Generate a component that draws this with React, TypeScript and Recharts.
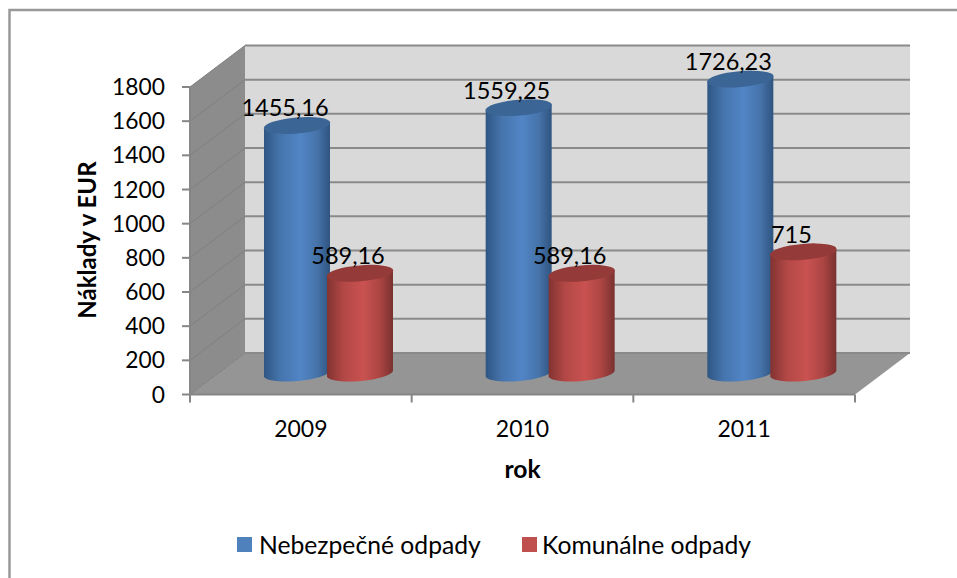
import { Bar, CartesianGrid, ComposedChart, Legend, LabelList, XAxis, YAxis } from "recharts";

const years = ["2009", "2010", "2011"];
const hazardous = [1455.16, 1559.25, 1726.23];
const municipal = [589.16, 589.16, 715];
const valueTicks = [0, 200, 400, 600, 800, 1000, 1200, 1400, 1600, 1800];

const rows = years.map((year, i) => ({ year, hazardous: hazardous[i], municipal: municipal[i] }));

const FONT = "Lato, Carlito, sans-serif";
const left = 190;
const right = 855;
const top = 87;
const bottom = 394.5;
// depth of the fake 3d box, back wall is shifted by this much
const DX = 55;
const DY = -41.5;
// the cylinders stand in the middle of the floor
const BAR_DX = 28;
const BAR_DY = -20.5;

function Cylinder(props: any) {
  const { x, y, width, height, fill, top: topFill } = props;
  const rx = width / 2 + 0.4;
  const ry = 8;
  const x0 = x + BAR_DX;
  const x1 = x0 + width;
  const yt = y + BAR_DY;
  const yb = y + height + BAR_DY;
  const tilt = 3;
  const body = `M${x0},${yt + tilt} L${x0},${yb + tilt} A${rx},${ry} -5 0 0 ${x1},${yb - tilt} L${x1},${yt - tilt} A${rx},${ry} -5 0 1 ${x0},${yt + tilt} Z`;
  return (
    <g>
      <path d={body} fill={fill} />
      <ellipse cx={x0 + width / 2} cy={yt} rx={rx} ry={ry} fill={topFill} transform={`rotate(-5 ${x0 + width / 2} ${yt})`} />
    </g>
  );
}

// walls and floor, drawn once from the top grid line
function Box(props: any) {
  return (
    <g key={props.key ?? "box"}>
      <polygon points={`${left},${top} ${left + DX},${top + DY} ${left + DX},${bottom + DY} ${left},${bottom}`} fill="#8c8c8c" />
      <polygon points={`${left + DX},${top + DY} ${right + DX},${top + DY} ${right + DX},${bottom + DY} ${left + DX},${bottom + DY}`} fill="#d9d9d9" />
      <polygon points={`${left},${bottom} ${right},${bottom} ${right + DX},${bottom + DY} ${left + DX},${bottom + DY}`} fill="#959595" />
    </g>
  );
}

function GridLine(props: any) {
  const { x1, x2, y1, y2 } = props;
  return (
    <g key={props.key ?? y1}>
      <line x1={x1} y1={y1} x2={x1 + DX} y2={y1 + DY} stroke="#7f7f7f" strokeWidth={1} />
      <line x1={x1 + DX} y1={y1 + DY} x2={x2 + DX} y2={y2 + DY} stroke="#8a8a8a" strokeWidth={2} />
    </g>
  );
}

// ticks sit on the category edges, the label stays in the middle
function YearTick(props: any) {
  const { x, index, payload } = props;
  const band = (right - left) / years.length;
  const edges = index === years.length - 1 ? [x - band / 2, x + band / 2] : [x - band / 2];
  return (
    <g>
      {edges.map((ex) => (
        <line key={ex} x1={ex} x2={ex} y1={bottom} y2={bottom + 8} stroke="#868686" strokeWidth={2} />
      ))}
      <text x={x} y={bottom + 33} textAnchor="middle" dominantBaseline="central" fontFamily={FONT} fontSize={23} fill="#000">
        {payload.value}
      </text>
    </g>
  );
}

function BarValue(props: any) {
  const { x, y, width, value } = props;
  return (
    <text
      x={x + BAR_DX + width / 2 - 12}
      y={y + BAR_DY - 18}
      textAnchor="middle"
      dominantBaseline="central"
      fontFamily={FONT}
      fontSize={23.5}
      fill="#000"
    >
      {String(value).replace(".", ",")}
    </text>
  );
}

function LegendRow(props: any) {
  const starts = [237, 522];
  return (
    <div style={{ position: "relative", width: 957, height: 30 }}>
      {props.payload.map((item: any, i: number) => (
        <div key={item.value} style={{ position: "absolute", left: starts[i], top: 0, height: 30, display: "flex", alignItems: "center", whiteSpace: "nowrap" }}>
          <span style={{ width: 15, height: 15, background: item.color, marginRight: i === 0 ? 7 : 5 }} />
          <span style={{ fontFamily: FONT, fontSize: 24.7, color: "#000" }}>{item.value}</span>
        </div>
      ))}
    </div>
  );
}

export default function App() {
  return (
    <div style={{ position: "absolute", left: 0, top: 0, width: 957, height: 578, overflow: "hidden", background: "#fff" }}>
      <ComposedChart
        width={957}
        height={578}
        data={rows}
        barSize={66}
        barGap={-3}
        margin={{ top, right: 957 - right, bottom: 578 - bottom - 70, left: 100 }}
      >
        <defs>
          <linearGradient id="blueBody" x1="0" x2="1" y1="0" y2="0">
            <stop offset="0" stopColor="#2f5684" />
            <stop offset="0.25" stopColor="#4675ad" />
            <stop offset="0.55" stopColor="#5285c6" />
            <stop offset="0.8" stopColor="#4674aa" />
            <stop offset="1" stopColor="#2f5480" />
          </linearGradient>
          <linearGradient id="redBody" x1="0" x2="1" y1="0" y2="0">
            <stop offset="0" stopColor="#823331" />
            <stop offset="0.25" stopColor="#b24846" />
            <stop offset="0.55" stopColor="#c95250" />
            <stop offset="0.8" stopColor="#ab4543" />
            <stop offset="1" stopColor="#7a312f" />
          </linearGradient>
        </defs>
        <polyline points="9.5,578 9.5,10 957,10" fill="none" stroke="#999999" strokeWidth={2.5} />
        <CartesianGrid vertical={false} horizontalPoints={[top]} horizontal={(p: any) => <Box {...p} />} />
        <CartesianGrid vertical={false} horizontal={(p: any) => <GridLine {...p} />} />
        <XAxis
          dataKey="year"
          tickLine={false}
          height={70}
          stroke="#868686"
          strokeWidth={2}
          tick={YearTick}
          label={{ value: "rok", position: "insideBottom", offset: 15, dy: 28, fontFamily: FONT, fontSize: 24.7, fontWeight: 700, fill: "#000" }}
        />
        <YAxis
          type="number"
          width={90}
          domain={[0, 1800]}
          ticks={valueTicks}
          interval={0}
          tickSize={8}
          tickMargin={17}
          stroke="#868686"
          strokeWidth={2}
          tick={{ fontFamily: FONT, fontSize: 22.8, fill: "#000" }}
          label={{ value: "Náklady v EUR", angle: -90, position: { x: -4, y: 153 }, textAnchor: "middle", fontFamily: FONT, fontSize: 24, fontWeight: 700, fill: "#000" }}
        />
        <Bar dataKey="hazardous" name="Nebezpečné odpady" fill="#4f81bd" isAnimationActive={false} shape={(p: any) => <Cylinder {...p} fill="url(#blueBody)" top="#3b6594" />}>
          <LabelList dataKey="hazardous" content={BarValue} />
        </Bar>
        <Bar dataKey="municipal" name="Komunálne odpady" fill="#c0504d" isAnimationActive={false} shape={(p: any) => <Cylinder {...p} fill="url(#redBody)" top="#943a38" />}>
          <LabelList dataKey="municipal" content={BarValue} />
        </Bar>
        <Legend verticalAlign="middle" align="center" layout="horizontal" itemSorter={null} content={LegendRow} wrapperStyle={{ position: "absolute", left: 0, top: 529, width: 957, margin: 0 }} />
      </ComposedChart>
    </div>
  );
}
